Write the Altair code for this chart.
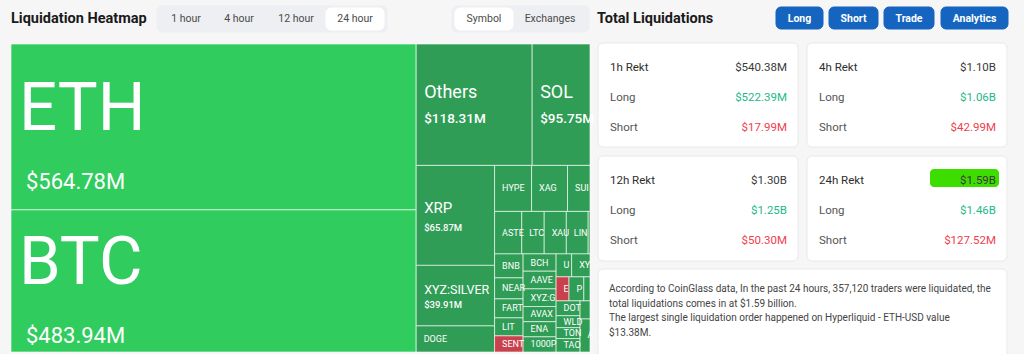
import altair as alt
import pandas as pd

# ---------------- data ----------------
coins = ["ETH", "BTC", "Others", "SOL", "XRP", "XYZ:SILVER", "DOGE",
         "HYPE", "XAG", "SUI", "ZEC",
         "ASTER", "LTC", "XAU", "LINK", "ADA", "PUMP",
         "BNB", "NEAR", "FARTCOIN", "LIT", "SENT",
         "BCH", "AAVE", "XYZ:GOLD", "AVAX", "ENA", "1000PEPE",
         "UNI", "XYZ:XYZ100",
         "ETC", "PENGU", "WIF",
         "DOT", "WLD", "TON", "TAO",
         "OP", "APT", "ZRO"]
values_m = [564.78, 483.94, 118.31, 95.75, 65.87, 39.91, 17.2,
            14.3, 13.9, 13.1, 9.5,
            9.7, 8.0, 7.9, 7.8, 6.8, 6.7,
            5.75, 5.03, 4.55, 4.31, 3.86,
            4.8, 4.9, 4.9, 4.2, 4.2, 4.2,
            3.0, 10.5,
            2.6, 3.0, 8.5,
            3.0, 2.4, 2.2, 2.7,
            7.0, 6.5, 6.24]
strip = [0, 0, 1, 1, 2, 2, 2,
         3, 3, 3, 3,
         4, 4, 4, 4, 4, 4,
         5, 5, 5, 5, 5,
         6, 6, 6, 6, 6, 6,
         7, 7,
         8, 8, 8,
         9, 9, 9, 9,
         10, 11, 12]
short_dominant = ["SENT", "ETC"]

periods = ["1h", "4h", "12h", "24h"]
total_m = [540.38, 1100.0, 1300.0, 1590.0]
long_m = [522.39, 1060.0, 1250.0, 1460.0]
short_m = [17.99, 42.99, 50.30, 127.52]

time_tabs = ["1 hour", "4 hour", "12 hour", "24 hour"]
view_tabs = ["Symbol", "Exchanges"]
buttons = ["Long", "Short", "Trade", "Analytics"]
summary_lines = [
    "According to CoinGlass data, In the past 24 hours, 357,120 traders were liquidated, the",
    "total liquidations comes in at $1.59 billion.",
    "The largest single liquidation order happened on Hyperliquid - ETH-USD value",
    "$13.38M.",
]

# ---------------- layout helpers ----------------
W, H = 1024, 354
BOX = (11, 44, 626, 352)
CLIP = 590
FONT = "Roboto"

EM = {"A": .65, "B": .62, "C": .65, "D": .66, "E": .57, "F": .55, "G": .68, "H": .71,
      "I": .27, "J": .55, "K": .63, "L": .54, "M": .87, "N": .71, "O": .69, "P": .63,
      "Q": .69, "R": .62, "S": .59, "T": .60, "U": .65, "V": .64, "W": .89, "X": .63,
      "Y": .60, "Z": .60, ":": .24, ".": .26, "$": .56}


def cw(c):
    if c in EM:
        return EM[c]
    if c.isdigit():
        return .56
    return .52


def fit(s, fs, room):
    out, pos = "", 0.0
    for c in s:
        w = cw(c) * fs
        if pos + 0.4 * w > room:
            break
        out += c
        pos += w
    return out


def squarify_strips(names, vals, groups, box):
    x0, y0, x1, y1 = box
    rem = sum(vals)
    out = {}
    for g in sorted(set(groups)):
        mem = [(n, v) for n, v, gg in zip(names, vals, groups) if gg == g]
        gs = sum(v for _, v in mem)
        w, h = x1 - x0, y1 - y0
        if w >= h:
            cwid = w * gs / rem
            yy = y0
            for n, v in mem:
                hh = h * v / gs
                out[n] = (x0, yy, x0 + cwid, yy + hh)
                yy += hh
            x0 += cwid
        else:
            rh = h * gs / rem
            xx = x0
            for n, v in mem:
                ww = w * v / gs
                out[n] = (xx, y0, xx + ww, y0 + rh)
                xx += ww
            y0 += rh
        rem -= gs
    return out


rects = squarify_strips(coins, values_m, strip, BOX)

tile_rows, name_rows, val_rows, bigval_rows = [], [], [], []
for n, v in zip(coins, values_m):
    x0, y0, x1, y1 = rects[n]
    if x0 >= CLIP:
        continue
    xr = min(x1, CLIP)
    if n in short_dominant:
        tone = "short"
    elif v >= 300:
        tone = "major"
    else:
        tone = "long"
    tile_rows.append(dict(x=x0, x2=xr, y=y0, y2=y1, tone=tone))
    cy = (y0 + y1) / 2
    h = y1 - y0
    if v >= 300:
        nfs, vfs, ndy, vdy, nx, vx = 67, 22, -17, 55, 8, 15
    elif v >= 90:
        nfs, vfs, ndy, vdy, nx, vx = 18, 13.5, -11.5, 14.5, 8, 8
    elif v >= 30 and h > 80:
        nfs, vfs, ndy, vdy, nx, vx = 15, 9.5, -7, 13, 8, 8
    elif v >= 30:
        nfs, vfs, ndy, vdy, nx, vx = 12.5, 9.5, -6, 9, 8, 8
    else:
        nfs, vfs, ndy, vdy, nx, vx = 9, None, 0, 0, 7.5, 0
    lab = fit(n, nfs, xr - (x0 + nx))
    if lab:
        name_rows.append(dict(x=x0 + nx, y=cy + ndy, text=lab, size=nfs, color="#ffffff"))
    if vfs:
        vt = fit(f"${v:.2f}M", vfs, xr - (x0 + vx))
        row = dict(x=x0 + vx, y=cy + vdy, text=vt, size=vfs, color="#ffffff")
        (bigval_rows if v >= 300 else val_rows).append(row)

tiles = pd.DataFrame(tile_rows)
names_df = pd.DataFrame(name_rows)
vals_df = pd.DataFrame(val_rows)
bigvals_df = pd.DataFrame(bigval_rows)


def money(m):
    return f"${m / 1000:.2f}B" if m >= 1000 else f"${m:.2f}M"


# ---------------- UI elements ----------------
ui_rects = []
ui_text = []
# time tabs
ui_rects.append(dict(x=157, x2=387, y=6, y2=32, fill="#EDEFF2", stroke="#EDEFF2"))
tab_cx = [186, 239, 296, 355]
ui_rects.append(dict(x=326, x2=384, y=8, y2=30, fill="#FFFFFF", stroke="#FFFFFF"))
for t, cx in zip(time_tabs, tab_cx):
    ui_text.append(dict(x=cx, y=19, text=t, size=10.5, color="#4a4a4a", align="center", weight="normal"))
# view tabs
ui_rects.append(dict(x=452, x2=589, y=6, y2=32, fill="#EDEFF2", stroke="#EDEFF2"))
ui_rects.append(dict(x=455, x2=513, y=8, y2=30, fill="#FFFFFF", stroke="#FFFFFF"))
for t, cx in zip(view_tabs, [484, 550]):
    ui_text.append(dict(x=cx, y=19, text=t, size=10.5, color="#4a4a4a", align="center", weight="normal"))
# titles
ui_text.append(dict(x=11, y=19, text="Liquidation Heatmap", size=14.5, color="#1a1a1a", align="left", weight="bold"))
ui_text.append(dict(x=597, y=19, text="Total Liquidations", size=14.5, color="#1a1a1a", align="left", weight="bold"))
# buttons
btn_x = [(776, 823), (829, 878), (884, 934), (941, 1008)]
for b, (a, c) in zip(buttons, btn_x):
    ui_rects.append(dict(x=a, x2=c, y=7, y2=29, fill="#1565C0", stroke="#1565C0"))
    ui_text.append(dict(x=(a + c) / 2, y=18.5, text=b, size=10.5, color="#ffffff", align="center", weight="bold"))
# cards
cards = [(598, 43, 798, 147), (807, 43, 1007, 147), (598, 156, 798, 261), (807, 156, 1007, 261)]
for p, tm, lm, sm, (a, b, c, d) in zip(periods, total_m, long_m, short_m, cards):
    ui_rects.append(dict(x=a, x2=c, y=b, y2=d, fill="#FFFFFF", stroke="#E9E9EB"))
    rows = [(f"{p} Rekt", money(tm), "#2e2e2e", "#3a3a3a"),
            ("Long", money(lm), "#555555", "#1DB98A"),
            ("Short", money(sm), "#555555", "#F03E4E")]
    for i, (lab, val, lc, vc) in enumerate(rows):
        yy = b + 24.5 + 30 * i
        ui_text.append(dict(x=a + 12, y=yy, text=lab, size=11.5, color=lc, align="left", weight="normal"))
        ui_text.append(dict(x=c - 11, y=yy, text=val, size=11.5, color=vc, align="right", weight="normal"))
# summary card
ui_rects.append(dict(x=598, x2=1007, y=269, y2=362, fill="#FFFFFF", stroke="#E9E9EB"))
for i, line in enumerate(summary_lines):
    ui_text.append(dict(x=609, y=289 + 14.6 * i, text=line, size=10, color="#444444", align="left", weight="normal"))

ui_rects = pd.DataFrame(ui_rects)
ui_text = pd.DataFrame(ui_text)
highlight = pd.DataFrame([dict(x=930, x2=999, y=169, y2=187, fill="#3EDD00", stroke="#3EDD00")])

# ---------------- chart ----------------
XS = alt.Scale(domain=[0, W], nice=False, zero=False)
YS = alt.Scale(domain=[0, H], nice=False, zero=False, reverse=True)


def enc_rect(ch, **extra):
    return ch.encode(
        x=alt.X("x:Q", scale=XS, axis=None),
        x2="x2:Q",
        y=alt.Y("y:Q", scale=YS, axis=None),
        y2="y2:Q",
        **extra,
    )


ui_layer = enc_rect(alt.Chart(ui_rects).mark_rect(cornerRadius=5, strokeWidth=1),
                    fill=alt.Fill("fill:N", scale=None, legend=None),
                    stroke=alt.Stroke("stroke:N", scale=None, legend=None))
hl_layer = enc_rect(alt.Chart(highlight).mark_rect(cornerRadius=4),
                    fill=alt.Fill("fill:N", scale=None, legend=None))
tile_layer = enc_rect(alt.Chart(tiles).mark_rect(stroke="#ffffff", strokeOpacity=0.6, strokeWidth=1),
                      fill=alt.Fill("tone:N", legend=None,
                                    scale=alt.Scale(domain=["major", "long", "short"],
                                                    range=["#31CC5E", "#2F9D56", "#C8414C"])))


def text_layer(df, align="left", weight="normal"):
    return alt.Chart(df).mark_text(align=align, baseline="middle", font=FONT, fontWeight=weight).encode(
        x=alt.X("x:Q", scale=XS, axis=None),
        y=alt.Y("y:Q", scale=YS, axis=None),
        text="text:N",
        size=alt.Size("size:Q", scale=None, legend=None),
        color=alt.Color("color:N", scale=None, legend=None),
    )


layers = [ui_layer, tile_layer, hl_layer,
          text_layer(names_df, "left", "normal"),
          text_layer(bigvals_df, "left", "normal"),
          text_layer(vals_df, "left", 500)]
for (al, wt), sub in ui_text.groupby(["align", "weight"], sort=False):
    layers.append(text_layer(sub.drop(columns=["align", "weight"]), al, wt))

chart = alt.layer(*layers).properties(
    width=W, height=H, padding=0,
    autosize=alt.AutoSizeParams(type="none"),
    background="#F6F6F7",
).configure_view(strokeWidth=0)

chart.save("out.html", embed_options={"renderer": "svg", "actions": False})
